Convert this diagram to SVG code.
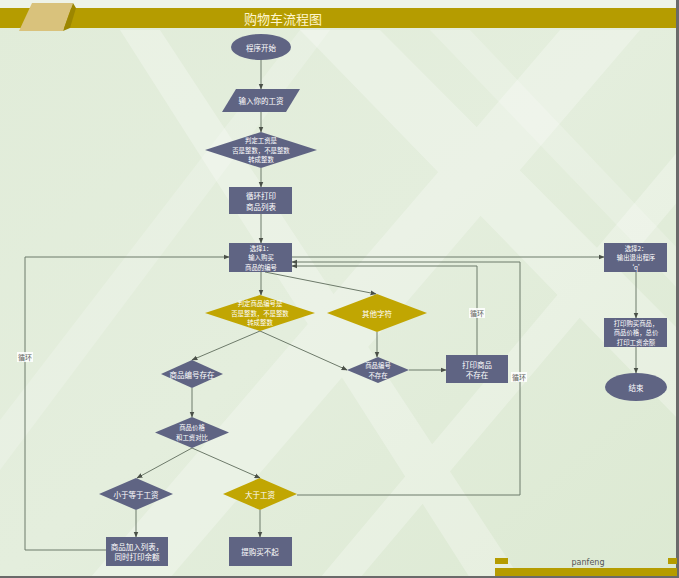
<svg xmlns="http://www.w3.org/2000/svg" width="679" height="578" viewBox="0 0 679 578">
<defs>
  <linearGradient id="bg" x1="0" y1="0" x2="1" y2="1">
    <stop offset="0" stop-color="#e1ecd9"/>
    <stop offset="0.5" stop-color="#e4eedd"/>
    <stop offset="1" stop-color="#dce9d2"/>
  </linearGradient>
  <marker id="arr" viewBox="0 0 10 10" refX="9" refY="5" markerWidth="6" markerHeight="6" orient="auto" markerUnits="userSpaceOnUse">
    <path d="M0,1 L10,5 L0,9 Z" fill="#4a5048"/>
  </marker>
  <style>
    .blue{fill:#5f6483;}
    .gold{fill:#c1a602;}
    .t{font-family:"Noto Sans CJK SC","Noto Sans",sans-serif;font-size:7.5px;fill:#ffffff;text-anchor:middle;dominant-baseline:central;}
    .s{font-size:6.4px;}
    .lbl{font-family:"Noto Sans CJK SC","Noto Sans",sans-serif;font-size:7px;fill:#555a55;text-anchor:middle;dominant-baseline:central;}
    .c{fill:none;stroke:#6d7a6a;stroke-width:1;}
    .ca{fill:none;stroke:#6d7a6a;stroke-width:1;marker-end:url(#arr);}
  </style>
</defs>
<!-- background -->
<rect x="0" y="0" width="679" height="578" fill="url(#bg)"/>
<g fill="#ffffff" opacity="0.28">
  <polygon points="300,30 380,30 679,330 679,420"/>
  <polygon points="560,30 640,30 170,578 90,578"/>
  <polygon points="120,30 160,30 520,578 470,578"/>
  <polygon points="679,150 679,200 360,578 320,578"/>
</g>
<g fill="#ffffff" opacity="0.2">
  <polygon points="0,420 0,470 330,30 300,30"/>
  <polygon points="430,30 470,30 679,250 679,290"/>
</g>
<!-- header -->
<rect x="0" y="0" width="679" height="8" fill="#eef3e8"/>
<rect x="0" y="8" width="679" height="20" fill="#b59c00"/>
<polygon points="32,3 73,3 63,31 19,31" fill="#d9c27c"/>
<polygon points="63,31 73,3 76,8 70,28" fill="#9c8600"/>
<text x="283" y="18" font-family="'Noto Sans CJK SC','Noto Sans',sans-serif" font-size="13" fill="#fff6cf" text-anchor="middle" dominant-baseline="central">购物车流程图</text>
<!-- borders -->
<rect x="676" y="0" width="3" height="578" fill="#6a6a6a"/>
<rect x="0" y="576" width="679" height="2" fill="#6a6a6a"/>
<!-- footer -->
<rect x="495" y="558" width="13" height="6" fill="#b59c00"/>
<rect x="668" y="558" width="9" height="6" fill="#b59c00"/>
<rect x="495" y="568" width="182" height="8" fill="#b59c00"/>
<text x="588" y="562" font-family="'DejaVu Sans',sans-serif" font-size="8" fill="#555555" text-anchor="middle" dominant-baseline="central">panfeng</text>

<!-- connectors -->
<g id="connectors">
  <path class="ca" d="M261,60 L261,89"/>
  <path class="ca" d="M261,112 L261,132"/>
  <path class="ca" d="M261,168 L261,187"/>
  <path class="ca" d="M261,214 L261,243"/>
  <path class="ca" d="M292,257 L604,257"/>
  <path class="ca" d="M636,272 L636,318"/>
  <path class="ca" d="M636,347 L636,373"/>
  <path class="ca" d="M261,272 L261,295"/>
  <path class="ca" d="M265,272 L376,294"/>
  <path class="ca" d="M260,331 L192,360"/>
  <path class="ca" d="M260,331 L347,370"/>
  <path class="ca" d="M377,332 L377,357"/>
  <path class="ca" d="M409,370 L446,370"/>
  <path class="ca" d="M477,355 L477,266 L292,266"/>
  <path class="ca" d="M192,388 L192,417"/>
  <path class="ca" d="M192,448 L137,478"/>
  <path class="ca" d="M192,448 L260,478"/>
  <path class="ca" d="M136,510 L136,537"/>
  <path class="ca" d="M260,510 L260,537"/>
  <path class="ca" d="M297,495 L520,495 L520,262 L292,262"/>
  <path class="ca" d="M106,550 L25,550 L25,257 L229,257"/>
  <rect x="17" y="352" width="16" height="10" fill="#ffffff" opacity="0.85"/>
  <text class="lbl" x="25" y="357">循环</text>
  <rect x="469" y="308" width="16" height="10" fill="#ffffff" opacity="0.85"/>
  <text class="lbl" x="477" y="313">循环</text>
  <rect x="511" y="372" width="16" height="10" fill="#ffffff" opacity="0.85"/>
  <text class="lbl" x="519" y="377">循环</text>
</g>

<!-- nodes -->
<g id="start">
  <ellipse class="blue" cx="261" cy="47" rx="30" ry="13"/>
  <text class="t" x="261" y="47">程序开始</text>
</g>
<g id="input-salary">
  <polygon class="blue" points="236,89 300,89 286,112 222,112"/>
  <text class="t" x="261" y="100.5">输入你的工资</text>
</g>
<g id="check-salary">
  <polygon class="blue" points="261,132 317,150 261,168 205,150"/>
  <text class="t s" x="261" y="140.5">判定工资是</text>
  <text class="t s" x="261" y="150">否是整数，不是整数</text>
  <text class="t s" x="261" y="159.5">转成整数</text>
</g>
<g id="print-list">
  <rect class="blue" x="229" y="187" width="63" height="27"/>
  <text class="t" x="261" y="195.5">循环打印</text>
  <text class="t" x="261" y="206">商品列表</text>
</g>
<g id="choice1">
  <rect class="blue" x="229" y="243" width="63" height="29"/>
  <text class="t s" x="261" y="248">选择1：</text>
  <text class="t s" x="261" y="257.5">输入购买</text>
  <text class="t s" x="261" y="267">商品的编号</text>
</g>
<g id="choice2">
  <rect class="blue" x="604" y="243" width="63" height="29"/>
  <text class="t s" x="636" y="248">选择2：</text>
  <text class="t s" x="636" y="257.5">输出退出程序</text>
  <text class="t s" x="636" y="267">‘q’</text>
</g>
<g id="print-summary">
  <rect class="blue" x="604" y="318" width="63" height="29"/>
  <text class="t s" x="636" y="323">打印购买商品，</text>
  <text class="t s" x="636" y="332.5">商品价格，总价</text>
  <text class="t s" x="636" y="342">打印工资余额</text>
</g>
<g id="end">
  <ellipse class="blue" cx="636" cy="387" rx="31" ry="14"/>
  <text class="t" x="636" y="387">结束</text>
</g>
<g id="check-code">
  <polygon class="gold" points="260,295 315,313 260,331 205,313"/>
  <text class="t s" x="260" y="303.5">判定商品编号是</text>
  <text class="t s" x="260" y="313">否是整数，不是整数</text>
  <text class="t s" x="260" y="322.5">转成整数</text>
</g>
<g id="other-char">
  <polygon class="gold" points="377,294 427,313 377,332 327,313"/>
  <text class="t" x="377" y="313">其他字符</text>
</g>
<g id="code-exists">
  <polygon class="blue" points="192,360 223,374 192,388 161,374"/>
  <text class="t" x="192" y="374">商品编号存在</text>
</g>
<g id="code-missing">
  <polygon class="blue" points="378,357 409,370 378,383 347,370"/>
  <text class="t s" x="378" y="365.5">商品编号</text>
  <text class="t s" x="378" y="375">不存在</text>
</g>
<g id="print-missing">
  <rect class="blue" x="446" y="355" width="62" height="28"/>
  <text class="t" x="477" y="364">打印商品</text>
  <text class="t" x="477" y="374.5">不存在</text>
</g>
<g id="compare">
  <polygon class="blue" points="192,417 229,432.5 192,448 155,432.5"/>
  <text class="t s" x="192" y="427.5">商品价格</text>
  <text class="t s" x="192" y="437.5">和工资对比</text>
</g>
<g id="le-salary">
  <polygon class="blue" points="136,478 173,494 136,510 99,494"/>
  <text class="t" x="136" y="494">小于等于工资</text>
</g>
<g id="gt-salary">
  <polygon class="gold" points="260,478 297,494 260,510 223,494"/>
  <text class="t" x="260" y="494">大于工资</text>
</g>
<g id="add-list">
  <rect class="blue" x="106" y="537" width="62" height="29"/>
  <text class="t" x="137" y="546">商品加入列表，</text>
  <text class="t" x="137" y="556.5">同时打印余额</text>
</g>
<g id="cannot-buy">
  <rect class="blue" x="229" y="537" width="63" height="29"/>
  <text class="t" x="260" y="551.5">提购买不起</text>
</g>
</svg>
